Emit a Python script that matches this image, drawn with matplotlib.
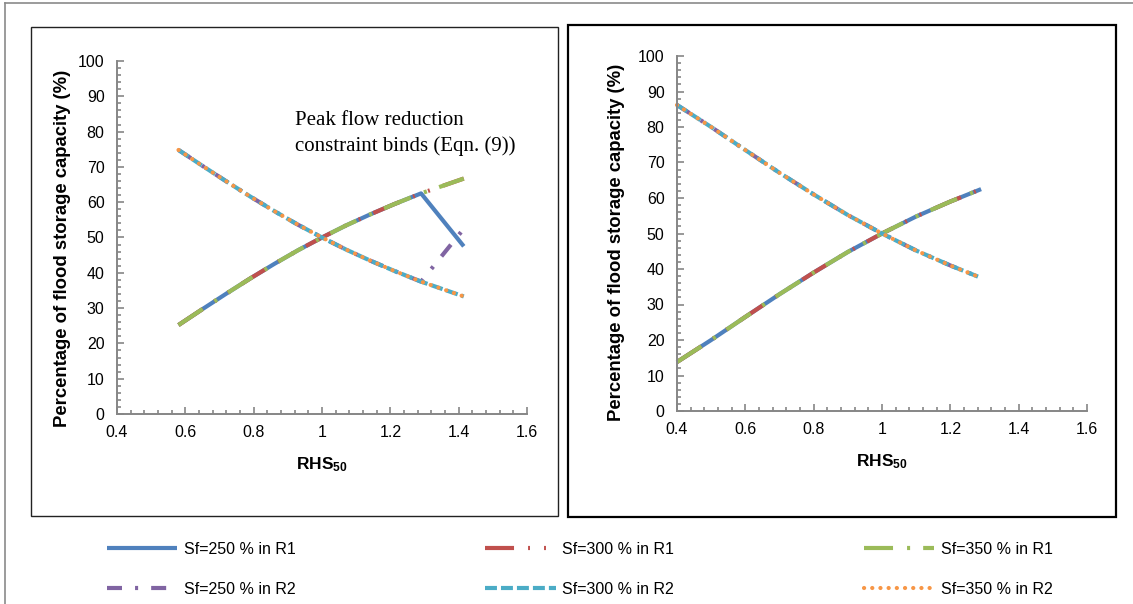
import matplotlib
matplotlib.use("Agg")
import matplotlib.pyplot as plt
from matplotlib.patches import Rectangle
from matplotlib.lines import Line2D
from matplotlib.ticker import MultipleLocator, FuncFormatter

# RHS50 values and storage shares (%) for the two reservoirs
rhs_left = [0.58, 0.65, 0.72, 0.79, 0.86, 0.93, 1.00, 1.07, 1.14, 1.21, 1.29, 1.415]
r1_left = [25.2, 29.7, 34.1, 38.4, 42.5, 46.4, 50.0, 53.4, 56.5, 59.4, 62.5, 66.7]
r1_left_sf250 = [25.2, 29.7, 34.1, 38.4, 42.5, 46.4, 50.0, 53.4, 56.5, 59.4, 62.5, 47.5]
r2_left = [74.8, 70.3, 65.9, 61.6, 57.5, 53.6, 50.0, 46.6, 43.5, 40.6, 37.5, 33.3]
r2_left_sf250 = [74.8, 70.3, 65.9, 61.6, 57.5, 53.6, 50.0, 46.6, 43.5, 40.6, 37.5, 52.5]

rhs_right = [0.40, 0.50, 0.60, 0.70, 0.80, 0.90, 1.00, 1.10, 1.20, 1.29]
r1_right = [13.8, 20.0, 26.5, 32.9, 39.0, 44.8, 50.0, 54.8, 59.0, 62.5]
r2_right = [86.2, 80.0, 73.5, 67.1, 61.0, 55.2, 50.0, 45.2, 41.0, 37.5]

labels = ["Sf=250 % in R1", "Sf=300 % in R1", "Sf=350 % in R1",
          "Sf=250 % in R2", "Sf=300 % in R2", "Sf=350 % in R2"]

W, H = 1133, 604
LW = 3.0

# line look for each series (dash lengths in points)
styles = [
    dict(color="#4F81BD", linestyle="-"),
    dict(color="#C0504D", dashes=(20.9, 10.1, 1.4, 10.1, 1.4, 10.1)),
    dict(color="#9BBB59", dashes=(20.9, 10.1, 2.2, 9.4)),
    dict(color="#8064A2", dashes=(10.8, 9.4, 2.2, 9.4)),
    dict(color="#4BACC6", dashes=(8.6, 2.9)),
    dict(color="#F79646", dashes=(0.1, 5.8), dash_capstyle="round"),
]

plt.rcParams["font.family"] = ["Liberation Sans", "DejaVu Sans"]
plt.rcParams["lines.scale_dashes"] = False
plt.rcParams["mathtext.fontset"] = "custom"
plt.rcParams["mathtext.rm"] = "Liberation Sans"
plt.rcParams["mathtext.bf"] = "Liberation Sans:bold"


def px_rect(x0, y0, x1, y1):
    """Convert a pixel box (top-left origin) to figure fractions."""
    return [x0 / W, 1 - y1 / H, (x1 - x0) / W, (y1 - y0) / H]


def style_axes(ax, ylabel_xy):
    """Excel-like axes: grey left/bottom spines, inner major and minor ticks."""
    for side in ("top", "right"):
        ax.spines[side].set_visible(False)
    for side in ("left", "bottom"):
        ax.spines[side].set_color("#868686")
        ax.spines[side].set_linewidth(1.4)
    ax.set_xlim(0.4, 1.6)
    ax.set_ylim(0, 100)
    ax.xaxis.set_major_locator(MultipleLocator(0.2))
    ax.xaxis.set_minor_locator(MultipleLocator(0.04))
    ax.yaxis.set_major_locator(MultipleLocator(10))
    ax.yaxis.set_minor_locator(MultipleLocator(2))
    ax.xaxis.set_major_formatter(FuncFormatter(lambda v, p: f"{v:g}"))
    ax.tick_params(which="both", direction="in", color="#868686", width=1.2)
    ax.tick_params(which="major", length=5, labelsize=11.5)
    ax.tick_params(which="minor", length=3)
    ax.tick_params(axis="x", which="major", pad=8)
    ax.tick_params(axis="y", which="major", pad=9)
    ax.set_xlabel(r"$\mathbf{RHS_{50}}$", fontsize=12.5, labelpad=11)
    ax.set_ylabel("Percentage of flood storage capacity (%)", fontsize=13.3,
                  fontweight="bold")
    ax.yaxis.set_label_coords(*ylabel_xy)


def plot_panel(ax, rhs, series, ylabel_xy):
    """Draws the six storage-share curves on one panel."""
    lines = []
    for values, style, label in zip(series, styles, labels):
        line, = ax.plot(rhs, values, lw=LW, label=label, clip_on=False,
                        solid_capstyle="butt", **style)
        if "dash_capstyle" not in style:
            line.set_dash_capstyle("butt")
        lines.append(line)
    style_axes(ax, ylabel_xy)
    return lines


fig = plt.figure(figsize=(W / 100, H / 100), dpi=100)

# outer grey frame and the two panel boxes
fig.add_artist(Line2D([5 / W, 5 / W], [0, 1 - 3 / H], color="#8a8a8a", lw=1.2))
fig.add_artist(Line2D([5 / W, 1], [1 - 3 / H, 1 - 3 / H], color="#8a8a8a", lw=1.2))
b = px_rect(31, 27, 558, 516)
fig.add_artist(Rectangle((b[0], b[1]), b[2], b[3], transform=fig.transFigure,
                         fill=False, edgecolor="#222222", lw=1.0))
b = px_rect(568, 25, 1116, 517)
fig.add_artist(Rectangle((b[0], b[1]), b[2], b[3], transform=fig.transFigure,
                         fill=False, edgecolor="black", lw=1.6))

ax_left = fig.add_axes(px_rect(117, 61, 527, 414))
ax_right = fig.add_axes(px_rect(677, 56, 1087, 411))

handles = plot_panel(ax_left, rhs_left,
                     [r1_left_sf250, r1_left, r1_left, r2_left_sf250, r2_left, r2_left],
                     (-0.112, 0.47))
plot_panel(ax_right, rhs_right,
           [r1_right, r1_right, r1_right, r2_right, r2_right, r2_right],
           (-0.126, 0.475))

ax_left.text(0.921, 79.5, "Peak flow reduction\nconstraint binds (Eqn. (9))",
             family="Liberation Serif", fontsize=15, ha="left", va="center",
             linespacing=1.45)

# legend: two rows, three columns (filled column by column)
order = [0, 3, 1, 4, 2, 5]
fig.legend([handles[i] for i in order], [labels[i] for i in order],
           ncol=3, loc="upper left", bbox_to_anchor=(107 / W, 1 - 542 / H),
           frameon=False, fontsize=11.5, handlelength=4.4, handletextpad=0.4,
           columnspacing=11.9, labelspacing=1.55, borderpad=0, borderaxespad=0)

fig.savefig("out.png", dpi=100)
